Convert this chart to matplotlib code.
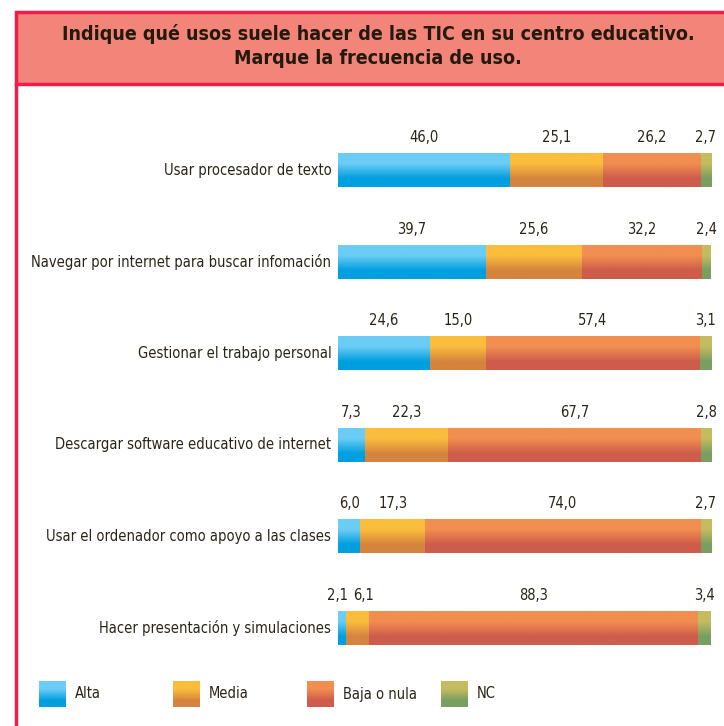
import matplotlib.pyplot as plt
import numpy as np
from matplotlib.colors import LinearSegmentedColormap
from matplotlib.patches import Rectangle

plt.rcParams['font.family'] = ['DejaVu Sans']
plt.rcParams['font.stretch'] = 'condensed'

categories = ['Usar procesador de texto',
              'Navegar por internet para buscar infomación',
              'Gestionar el trabajo personal',
              'Descargar software educativo de internet',
              'Usar el ordenador como apoyo a las clases',
              'Hacer presentación y simulaciones']
series = ['Alta', 'Media', 'Baja o nula', 'NC']
alta = [46.0, 39.7, 24.6, 7.3, 6.0, 2.1]
media = [25.1, 25.6, 15.0, 22.3, 17.3, 6.1]
baja = [26.2, 32.2, 57.4, 67.7, 74.0, 88.3]
nc = [2.7, 2.4, 3.1, 2.8, 2.7, 3.4]
values = [alta, media, baja, nc]

# top / bottom colours of each gradient
grad_colors = [('#6BCDF5', '#009FDF'),
               ('#FBBD3C', '#D5843F'),
               ('#F28E50', '#CE5C4C'),
               ('#C4BC60', '#799E62')]

text_color = '#2B2418'
fs = 10.5
W, H = 724, 726
fig = plt.figure(figsize=(W / 100, H / 100), dpi=100)

# background axes in pixel coordinates for frame, title and legend
bg = fig.add_axes([0, 0, 1, 1])
bg.set_xlim(0, W)
bg.set_ylim(H, 0)
bg.axis('off')


def gradient_img(top, bottom):
    cmap = LinearSegmentedColormap.from_list('g', [(0, top), (0.3, top), (0.75, bottom), (1, bottom)])
    g = np.linspace(0, 1, 64).reshape(-1, 1)
    return cmap(g)


bg.add_patch(Rectangle((16, 12), 730, 72, facecolor='#F3847A', edgecolor='#EE1D4B', lw=2.5))
bg.plot([16, 16], [84, H], color='#EE1D4B', lw=2.5)
bg.text(378, 34, 'Indique qué usos suele hacer de las TIC en su centro educativo.',
        ha='center', va='center', fontsize=14, fontweight='bold', color='#231A0C')
bg.text(378, 59, 'Marque la frecuencia de uso.',
        ha='center', va='center', fontsize=14, fontweight='bold', color='#231A0C')

# legend
leg_x = [39, 173, 307, 441]
for i, name in enumerate(series):
    x0 = leg_x[i]
    bg.imshow(gradient_img(*grad_colors[i]), extent=[x0, x0 + 27, 707, 681], aspect='auto', zorder=2)
    bg.text(x0 + 36, 694, name, ha='left', va='center', fontsize=fs, color=text_color)
bg.set_xlim(0, W)
bg.set_ylim(H, 0)

# bar axes: 0..100 maps to x px 338..711, rows every ~91.6 px starting at 170
ax = fig.add_axes([338 / W, 1 - 670 / H, 373 / W, 570 / H])
ax.axis('off')
y = np.arange(len(categories))
left = np.zeros(len(categories))
bar_h = 0.37
label_shift = {(5, 0): -1.05, (5, 1): 1.6}
for i, vals in enumerate(values):
    bars = ax.barh(y, vals, left=left, height=bar_h, color=grad_colors[i][1], lw=0)
    img = gradient_img(*grad_colors[i])
    for j, b in enumerate(bars):
        ax.imshow(img, extent=[b.get_x(), b.get_x() + b.get_width(),
                               b.get_y() + b.get_height(), b.get_y()],
                  aspect='auto', zorder=3)
        cx = b.get_x() + b.get_width() / 2 + label_shift.get((j, i), 0)
        ax.text(cx, b.get_y() - 0.17, f'{vals[j]:.1f}'.replace('.', ','),
                ha='center', va='center', fontsize=fs, color=text_color)
    left += np.array(vals)

for j, cat in enumerate(categories):
    ax.text(-1.8, y[j], cat, ha='right', va='center', fontsize=fs, color=text_color)

ax.set_xlim(0, 100)
ax.set_ylim(5 + 42 / 91.6, -70 / 91.6)

fig.savefig('out.png', dpi=100)
